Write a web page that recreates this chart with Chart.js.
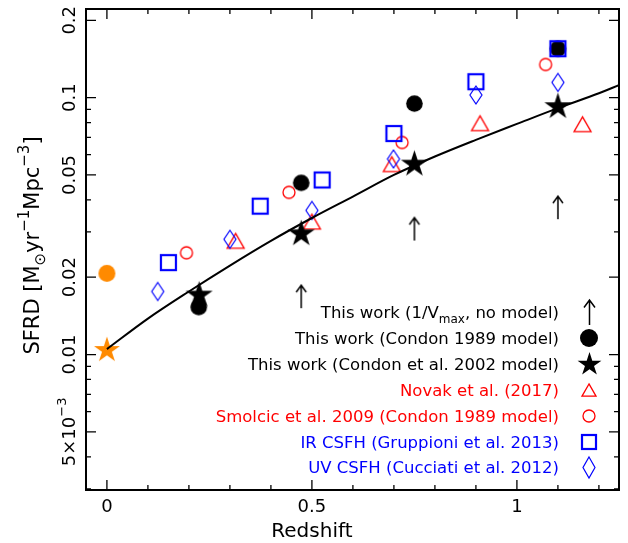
<!DOCTYPE html>
<html><head><meta charset="utf-8">
<script src="https://cdn.jsdelivr.net/npm/chart.js@4.4.0/dist/chart.umd.min.js"></script>
<style>html,body{margin:0;padding:0;background:#fff}#wrap{width:628px;height:543px}</style>
</head><body><div id="wrap"><canvas id="c" width="628" height="543"></canvas></div>
<script>
// ---------------- data ----------------
const arrowZ = [0.474, 0.750, 1.100];
const arrowSFRD = [0.0168, 0.0308, 0.0373];
const condon89Z = [0.224, 0.474, 0.750, 1.100];
const condon89SFRD = [0.0153, 0.0466, 0.0948, 0.155];
const condon02Z = [0.225, 0.474, 0.750, 1.100];
const condon02SFRD = [0.0172, 0.0298, 0.0556, 0.0931];
const novakZ = [0.314, 0.500, 0.695, 0.910, 1.160];
const novakSFRD = [0.0277, 0.0329, 0.0551, 0.0795, 0.0788];
const smolcicZ = [0.194, 0.444, 0.720, 1.070];
const smolcicSFRD = [0.0249, 0.0428, 0.0669, 0.1346];
const irZ = [0.150, 0.374, 0.525, 0.700, 0.900, 1.100];
const irSFRD = [0.0228, 0.0378, 0.0478, 0.0725, 0.1153, 0.155];
const uvZ = [0.124, 0.300, 0.500, 0.699, 0.900, 1.100];
const uvSFRD = [0.0176, 0.0281, 0.0364, 0.0577, 0.1024, 0.1146];
const localCircleZ = [0.0];
const localCircleSFRD = [0.0207];
const localStarZ = [0.0];
const localStarSFRD = [0.0105];
const fitZ = [0, 0.1, 0.2, 0.3, 0.4, 0.5, 0.6, 0.7, 0.8, 0.9, 1.0, 1.1, 1.2, 1.25];
const fitSFRD = [0.0105, 0.0138, 0.0176, 0.0222, 0.0277, 0.0340, 0.0412, 0.0500, 0.0590, 0.0685, 0.0790, 0.0910, 0.1040, 0.1120];

const xTickValues = [0, 0.5, 1];
const xTickLabels = ['0', '0.5', '1'];
const yTickValues = [0.005, 0.01, 0.02, 0.05, 0.1, 0.2];
const yTickLabels = ['5×10^−3', '0.01', '0.02', '0.05', '0.1', '0.2'];
const xTitle = 'Redshift';
const legendLabels = [
  'This work (1/V_max, no model)',
  'This work (Condon 1989 model)',
  'This work (Condon et al. 2002 model)',
  'Novak et al. (2017)',
  'Smolcic et al. 2009 (Condon 1989 model)',
  'IR CSFH (Gruppioni et al. 2013)',
  'UV CSFH (Cucciati et al. 2012)'
];

// ---------------- styling ----------------
const RED = '#ff0000', BLUE = '#0000ff', ORANGE = '#ff8a00', BLACK = '#000000';
const FONT = '"DejaVu Sans", sans-serif';

function mk(w, h, draw) {
  const c = document.createElement('canvas');
  c.width = w; c.height = h;
  const g = c.getContext('2d');
  draw(g, w / 2, h / 2);
  return c;
}
function starPath(g, cx, cy, R) {
  const r = R * 0.382;
  g.beginPath();
  for (let i = 0; i < 10; i++) {
    const a = -Math.PI / 2 + i * Math.PI / 5;
    const rr = i % 2 ? r : R;
    g.lineTo(cx + rr * Math.cos(a), cy + rr * Math.sin(a));
  }
  g.closePath();
}
const star = (R, col) => mk(Math.ceil(2 * R + 4), Math.ceil(2 * R + 4), (g, cx, cy) => { starPath(g, cx, cy + R * 0.08, R); g.fillStyle = col; g.fill(); });
const dot = (r, col) => mk(Math.ceil(2 * r + 4), Math.ceil(2 * r + 4), (g, cx, cy) => { g.beginPath(); g.arc(cx, cy, r, 0, 2 * Math.PI); g.fillStyle = col; g.fill(); });
const ring = (r, col, lw) => mk(Math.ceil(2 * r + 6), Math.ceil(2 * r + 6), (g, cx, cy) => { g.beginPath(); g.arc(cx, cy, r, 0, 2 * Math.PI); g.strokeStyle = col; g.lineWidth = lw; g.stroke(); });
const tri = (w, col, lw) => mk(Math.ceil(w + 6), Math.ceil(w + 6), (g, cx, cy) => {
  const h = w * 0.866; g.beginPath(); g.moveTo(cx, cy - h / 2); g.lineTo(cx + w / 2, cy + h / 2); g.lineTo(cx - w / 2, cy + h / 2); g.closePath();
  g.strokeStyle = col; g.lineWidth = lw; g.lineJoin = 'miter'; g.stroke(); });
const sq = (s, col, lw) => mk(Math.ceil(s + 6), Math.ceil(s + 6), (g, cx, cy) => { g.strokeStyle = col; g.lineWidth = lw; g.strokeRect(cx - s / 2, cy - s / 2, s, s); });
const dia = (w, h, col, lw) => mk(Math.ceil(w + 6), Math.ceil(h + 6), (g, cx, cy) => {
  g.beginPath(); g.moveTo(cx, cy - h / 2); g.lineTo(cx + w / 2, cy); g.lineTo(cx, cy + h / 2); g.lineTo(cx - w / 2, cy); g.closePath();
  g.strokeStyle = col; g.lineWidth = lw; g.stroke(); });
const arrow = (L, hw, hl, col, lw) => mk(Math.ceil(2 * hw + 6), Math.ceil(L + 6), (g, cx, cy) => {
  g.strokeStyle = col; g.lineWidth = lw; g.beginPath();
  g.moveTo(cx, cy + L / 2); g.lineTo(cx, cy - L / 2);
  g.moveTo(cx - hw, cy - L / 2 + hl); g.lineTo(cx, cy - L / 2); g.lineTo(cx + hw, cy - L / 2 + hl); g.stroke(); });

const M = {
  arrow: arrow(23, 5, 7, BLACK, 1.5),
  c89: dot(8.3, BLACK),
  c02: star(14.2, BLACK),
  novak: tri(17, RED, 1.3),
  smolcic: ring(6, RED, 1.3),
  ir: sq(15, BLUE, 2.2),
  uv: dia(12, 18, BLUE, 1.2),
  oCircle: dot(8.5, ORANGE),
  oStar: star(13.6, ORANGE)
};
const L = [
  arrow(25, 5.5, 7.5, BLACK, 1.5),
  dot(9, BLACK),
  star(12.5, BLACK),
  tri(14, RED, 1.3),
  ring(6, RED, 1.3),
  sq(14, BLUE, 2.2),
  dia(12, 21, BLUE, 1.2)
];
const legendColors = [BLACK, BLACK, BLACK, RED, RED, BLUE, BLUE];

const pts = (xs, ys) => xs.map((v, i) => ({x: v, y: ys[i]}));
function ds(xs, ys, style, order) {
  return {data: pts(xs, ys), pointStyle: style, pointRadius: 8, showLine: false, order: order};
}

// ---------------- axes / labels / legend plugin ----------------
function drawPieces(ctx, pieces, xRight, y, color, baseSize, align) {
  const fontFor = k => (k === 'n' ? baseSize : Math.round(baseSize * 0.72)) + 'px ' + FONT;
  let total = 0;
  pieces.forEach(p => { ctx.font = fontFor(p[1]); total += ctx.measureText(p[0]).width; });
  let x = align === 'right' ? xRight - total : (align === 'center' ? xRight - total / 2 : xRight);
  ctx.fillStyle = color; ctx.textBaseline = 'alphabetic'; ctx.textAlign = 'left';
  pieces.forEach(p => {
    ctx.font = fontFor(p[1]);
    const dy = p[1] === 'sup' ? -baseSize * 0.5 : (p[1] === 'sub' ? baseSize * 0.3 : 0);
    ctx.fillText(p[0], x, y + dy);
    x += ctx.measureText(p[0]).width;
  });
}
function parse(s) {
  if (s.includes('^')) { const [a, b] = s.split('^'); return [[a, 'n'], [b, 'sup']]; }
  if (s.includes('_')) { const i = s.indexOf('_'); const j = s.indexOf(',', i); return [[s.slice(0, i), 'n'], [s.slice(i + 1, j), 'sub'], [s.slice(j), 'n']]; }
  return [[s, 'n']];
}

const axesPlugin = {
  id: 'axesPlugin',
  afterDraw(chart) {
    const {ctx, chartArea: a, scales: {x, y}} = chart;
    ctx.save();
    ctx.strokeStyle = BLACK; ctx.lineWidth = 1.3;
    const majorLen = 10, minorLen = 5;
    const xMinor = [];
    for (let i = 0; i <= 12; i++) xMinor.push(i / 10);
    ctx.beginPath();
    xMinor.forEach(v => {
      const len = xTickValues.some(t => Math.abs(t - v) < 1e-9) ? majorLen : minorLen;
      const px = x.getPixelForValue(v);
      ctx.moveTo(px, a.bottom); ctx.lineTo(px, a.bottom - len);
      ctx.moveTo(px, a.top); ctx.lineTo(px, a.top + len);
    });
    const yMinor = [];
    for (let d = 0.001; d < 0.5; d *= 10) for (let k = 1; k <= 9; k++) { const v = +(k * d).toPrecision(3); if (v >= y.min && v <= y.max) yMinor.push(v); }
    yMinor.forEach(v => {
      const len = yTickValues.some(t => Math.abs(t - v) / t < 1e-6) ? majorLen : minorLen;
      const py = y.getPixelForValue(v);
      ctx.moveTo(a.left, py); ctx.lineTo(a.left + len, py);
      ctx.moveTo(a.right, py); ctx.lineTo(a.right - len, py);
    });
    ctx.stroke();
    ctx.lineWidth = 2;
    ctx.strokeRect(a.left, a.top, a.right - a.left, a.bottom - a.top);

    ctx.fillStyle = BLACK; ctx.font = '18px ' + FONT; ctx.textAlign = 'center'; ctx.textBaseline = 'alphabetic';
    xTickValues.forEach((v, i) => ctx.fillText(xTickLabels[i], x.getPixelForValue(v), a.bottom + 22));
    ctx.font = '20px ' + FONT;
    ctx.fillText(xTitle, x.getPixelForValue(0.5), a.bottom + 47);

    yTickValues.forEach((v, i) => {
      ctx.save();
      ctx.translate(a.left - 11, y.getPixelForValue(v));
      ctx.rotate(-Math.PI / 2);
      drawPieces(ctx, parse(yTickLabels[i]), 0, 0, BLACK, 18, 'center');
      ctx.restore();
    });
    ctx.save();
    ctx.translate(a.left - 47, (a.top + a.bottom) / 2 - 4);
    ctx.rotate(-Math.PI / 2);
    drawPieces(ctx, [['SFRD [M', 'n'], ['⊙', 'sub'], ['yr', 'n'], ['−1', 'sup'], ['Mpc', 'n'], ['−3', 'sup'], [']', 'n']], 0, 0, BLACK, 21, 'center');
    ctx.restore();

    const textRight = a.right - 60, symX = a.right - 30;
    legendLabels.forEach((s, i) => {
      const cy = a.top + 303 + i * 25.9;
      drawPieces(ctx, parse(s), textRight, cy + 6, legendColors[i], 16.5, 'right');
      const img = L[i];
      ctx.drawImage(img, Math.round(symX - img.width / 2), Math.round(cy - img.height / 2));
    });
    ctx.restore();
  }
};

new Chart(document.getElementById('c'), {
  type: 'scatter',
  data: {
    datasets: [
      {data: pts(fitZ, fitSFRD), showLine: true, borderColor: BLACK, borderWidth: 2, pointRadius: 0, fill: false, cubicInterpolationMode: 'monotone', order: 0},
      ds(irZ, irSFRD, M.ir, 1),
      ds(uvZ, uvSFRD, M.uv, 2),
      ds(condon02Z, condon02SFRD, M.c02, 3),
      ds(localStarZ, localStarSFRD, M.oStar, 4),
      ds(novakZ, novakSFRD, M.novak, 5),
      ds(smolcicZ, smolcicSFRD, M.smolcic, 6),
      ds(condon89Z, condon89SFRD, M.c89, 7),
      ds(localCircleZ, localCircleSFRD, M.oCircle, 8),
      ds(arrowZ, arrowSFRD, M.arrow, 9)
    ]
  },
  options: {
    responsive: false,
    animation: false,
    events: [],
    layout: {padding: {left: 86, right: 5, top: 7, bottom: 53}},
    scales: {
      x: {type: 'linear', min: -0.051, max: 1.249, display: false},
      y: {type: 'logarithmic', min: 0.00297, max: 0.2213, display: false}
    },
    plugins: {legend: {display: false}, tooltip: {enabled: false}}
  },
  plugins: [axesPlugin]
});
</script>
</body></html>
